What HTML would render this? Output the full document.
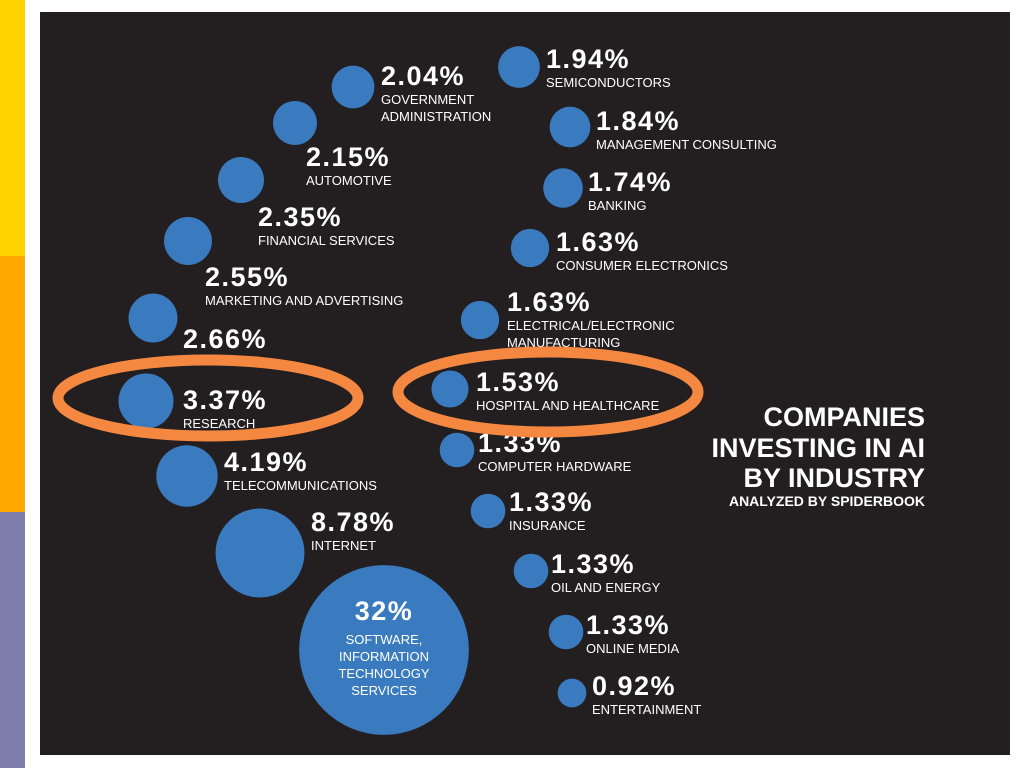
<!DOCTYPE html>
<html><head><meta charset="utf-8">
<style>
html,body{margin:0;padding:0;width:1024px;height:768px;overflow:hidden;background:#fff;font-family:"Liberation Sans",sans-serif;}
svg{position:absolute;left:0;top:0}
</style></head>
<body>
<svg id="chart" width="1024" height="768">
  <rect x="0" y="0" width="25" height="256" fill="#FFD200"/>
  <rect x="0" y="256" width="25" height="256" fill="#FFA800"/>
  <rect x="0" y="512" width="25" height="256" fill="#7F7FAE"/>
  <rect x="40" y="12" width="970" height="743" fill="#231F20"/>
  <g id="bubbles"></g>
  <g fill="#fff" font-weight="bold" text-anchor="end">
    <text x="925" y="426" font-size="27">COMPANIES</text>
    <text x="925" y="457" font-size="27">INVESTING IN AI</text>
    <text x="925" y="487" font-size="27">BY INDUSTRY</text>
    <text x="925" y="506" font-size="14">ANALYZED BY SPIDERBOOK</text>
  </g>
  <ellipse cx="208" cy="398" rx="150" ry="38" fill="none" stroke="#F58840" stroke-width="11"/>
  <ellipse cx="548" cy="392" rx="150" ry="40" fill="none" stroke="#F58840" stroke-width="11"/>
</svg>
<script>
const categories = ["GOVERNMENT|ADMINISTRATION","AUTOMOTIVE","FINANCIAL SERVICES","MARKETING AND ADVERTISING","","RESEARCH","TELECOMMUNICATIONS","INTERNET","SOFTWARE,|INFORMATION|TECHNOLOGY|SERVICES","SEMICONDUCTORS","MANAGEMENT CONSULTING","BANKING","CONSUMER ELECTRONICS","ELECTRICAL/ELECTRONIC|MANUFACTURING","HOSPITAL AND HEALTHCARE","COMPUTER HARDWARE","INSURANCE","OIL AND ENERGY","ONLINE MEDIA","ENTERTAINMENT"];
const values = [2.04,2.15,2.35,2.55,2.66,3.37,4.19,8.78,32,1.94,1.84,1.74,1.63,1.63,1.53,1.33,1.33,1.33,1.33,0.92];
const valueLabels = ["2.04%","2.15%","2.35%","2.55%","2.66%","3.37%","4.19%","8.78%","32%","1.94%","1.84%","1.74%","1.63%","1.63%","1.53%","1.33%","1.33%","1.33%","1.33%","0.92%"];
// layout (not data): bubble centers and label anchors
const layout = [
 {cx:353,cy:87,lx:381,ly:85},{cx:295,cy:123,lx:306,ly:166},{cx:241,cy:180,lx:258,ly:226},
 {cx:188,cy:241,lx:205,ly:286},{cx:153,cy:318,lx:183,ly:348},{cx:146,cy:401,lx:183,ly:409},
 {cx:187,cy:476,lx:224,ly:471},{cx:260,cy:553,lx:311,ly:531},{cx:384,cy:650,lx:384,ly:620},
 {cx:519,cy:67,lx:546,ly:68},{cx:570,cy:127,lx:596,ly:130},{cx:563,cy:188,lx:588,ly:191},
 {cx:530,cy:248,lx:556,ly:251},{cx:480,cy:320,lx:507,ly:311},{cx:450,cy:389,lx:476,ly:391},
 {cx:457,cy:450,lx:478,ly:452},{cx:488,cy:511,lx:509,ly:511},{cx:531,cy:571,lx:551,ly:573},
 {cx:566,cy:632,lx:586,ly:634},{cx:572,cy:693,lx:592,ly:695}];
const rScale = v => 15*Math.sqrt(v);
const NS="http://www.w3.org/2000/svg";
const g=document.getElementById('bubbles');
values.forEach((v,i)=>{
  const L=layout[i];
  const c=document.createElementNS(NS,'circle');
  c.setAttribute('cx',L.cx);c.setAttribute('cy',L.cy);c.setAttribute('r',rScale(v));
  c.setAttribute('fill','#3A7BC0');
  
  
  g.appendChild(c);
  const big = v>=20;
  const t=document.createElementNS(NS,'text');
  t.setAttribute('x',L.lx);t.setAttribute('y',L.ly);
  t.setAttribute('fill','#fff');t.setAttribute('font-weight','bold');t.setAttribute('font-size','27');
  t.setAttribute('letter-spacing','1.5');
  if(big) t.setAttribute('text-anchor','middle');
  t.textContent=valueLabels[i];
  
  
  g.appendChild(t);
  if(categories[i]){
    categories[i].split('|').forEach((line,j)=>{
      const s=document.createElementNS(NS,'text');
      s.setAttribute('x',L.lx);s.setAttribute('y',L.ly+(big?24:19)+j*17);
      s.setAttribute('fill','#fff');s.setAttribute('font-size','13');
      if(big) s.setAttribute('text-anchor','middle');
      s.textContent=line;
      
      
      g.appendChild(s);
    });
  }
});
</script>
</body></html>
